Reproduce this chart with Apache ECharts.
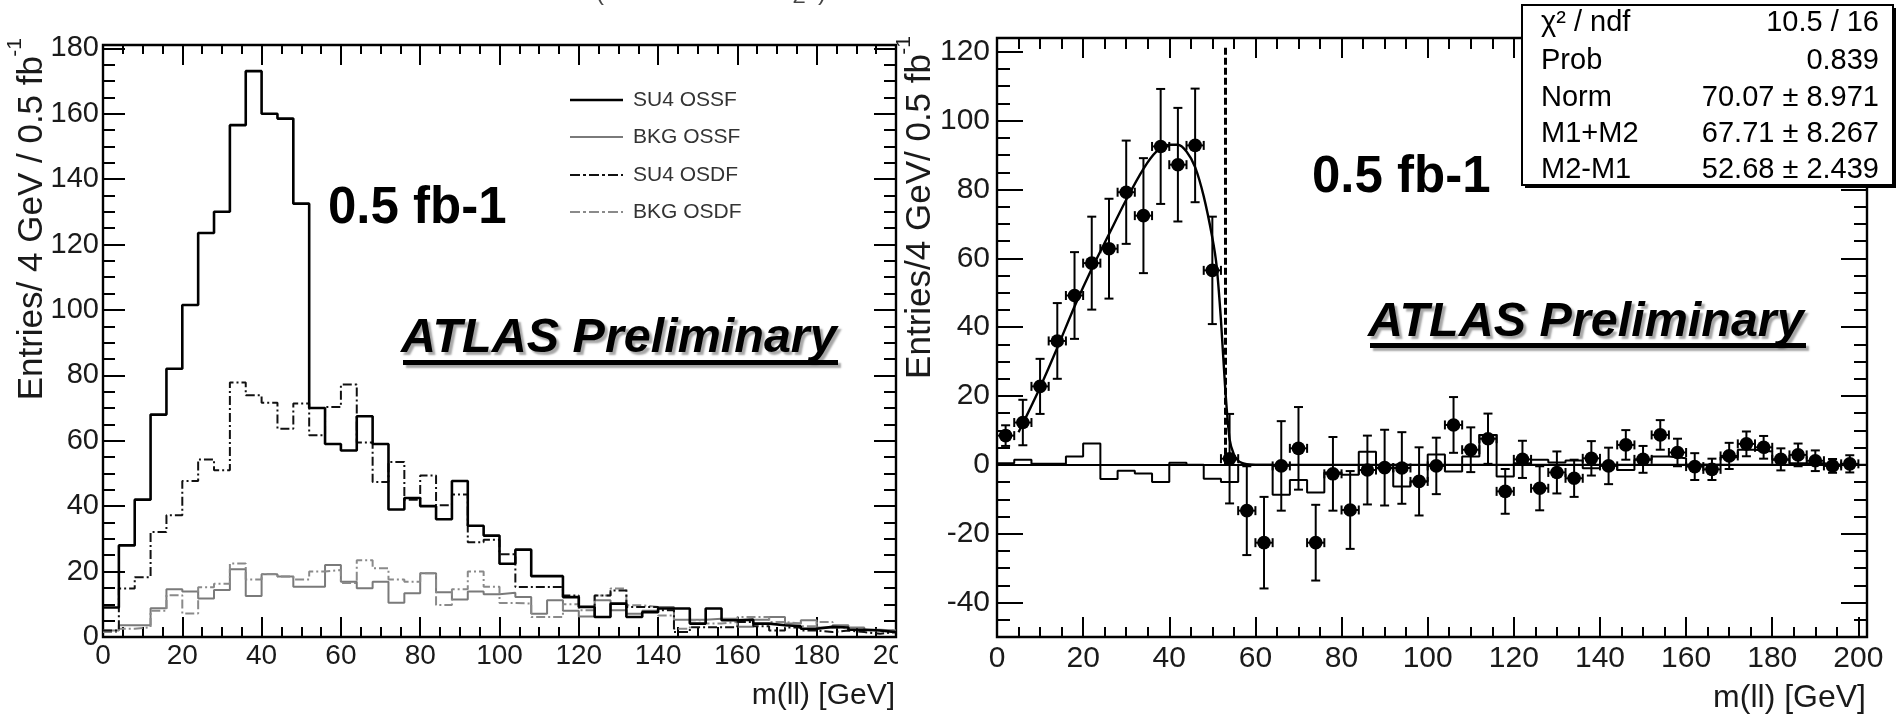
<!DOCTYPE html>
<html>
<head>
<meta charset="utf-8">
<script src="https://cdn.jsdelivr.net/npm/echarts@6/dist/echarts.min.js"></script>
<style>
html,body{margin:0;padding:0;background:#fff;}
#c{width:1899px;height:717px;}
</style>
</head>
<body>
<div id="c"></div>
<script>
// ---------------- DATA ----------------
const BIN_WIDTH = 4; // GeV per bin, 50 bins from 0 to 200

// Left panel: m(ll) distributions (entries / 4 GeV / 0.5 fb^-1)
const su4Ossf = [9, 28, 42, 68, 82, 101.5, 123.5, 130, 156.5, 173, 160, 158.5, 132.5, 70, 59, 57, 67.5, 59, 39, 42.5,
                 40, 36, 47.7, 34, 31, 22.4, 26.7, 18.6, 18.6, 12.2, 9.2, 6.1, 10.2, 6.1, 7.6, 8.7, 8.7, 4.1, 8.7, 5.1,
                 5.3, 4.1, 3.6, 3.3, 2.5, 3.1, 2.9, 2.2, 2, 1.5];
const bkgOssf = [2, 3.6, 3.6, 8.8, 14.6, 13.9, 11.8, 14.4, 20.7, 12.5, 19.2, 18.5, 15.4, 15.4, 22, 16.9, 14.9, 16.9, 10.5, 13.4,
                 19.5, 13.7, 11.5, 13.9, 13.1, 13.5, 12.2, 7.1, 11.2, 8, 6.3, 11.2, 8.2, 7.1, 8, 9.2, 5.3, 5.3, 5.6, 5.6,
                 3.1, 5.3, 6.1, 4.1, 5.1, 2.9, 3.6, 2.9, 2.2, 2];
const su4Osdf = [2, 14.8, 18.3, 32.1, 37.2, 47.7, 54.3, 51, 77.8, 73.9, 71.6, 63.7, 71.4, 61.7, 70.3, 77.2, 59.5, 47.4, 53.5, 42,
                 49.4, 40.3, 43.6, 29, 29.7, 25.3, 15.3, 15.3, 15.3, 12.7, 9.2, 12.7, 14.2, 9.2, 9.2, 8.2, 1.5, 3, 3, 3,
                 4.6, 3.3, 2, 2.9, 2, 1.5, 2, 1.5, 1, 1.5];
const bkgOsdf = [1.5, 2.5, 3, 8, 12.8, 7.2, 15.2, 16.3, 22.5, 17.6, 19.3, 18.5, 17.6, 20, 20.5, 16.5, 23.5, 21, 17.6, 16.9,
                 19.5, 9.8, 14.6, 20, 15.4, 10.4, 10.2, 6.1, 6.1, 10, 8.2, 12.7, 14.8, 9.7, 9.2, 6.6, 2.5, 5.1, 4.1, 4.6,
                 6.1, 6.1, 4.6, 4.1, 3.3, 4.6, 2.9, 2.2, 1.8, 2.2];

// Right panel: flavour-subtracted excess (points with errors), residual histogram, fit curve
const excess = [8.5, 12.3, 22.8, 36, 49.2, 58.6, 62.8, 79.2, 72.4, 92.5, 87.2, 92.8, 56.5, 1.8, -13.3, -22.6, -0.3, 4.8, -22.6, -2.6,
                -13.1, -1.5, -0.8, -0.9, -4.8, -0.3, 11.6, 4.4, 7.6, -7.7, 1.6, -6.8, -2.2, -3.9, 1.9, -0.3, 5.8, 1.6, 8.7, 3.6,
                -0.5, -1.3, 2.6, 6.1, 5.1, 1.6, 2.9, 1.2, -0.3, 0.3];
const excessErr = [3, 6.6, 8, 11, 12.6, 13.5, 14.5, 15, 16.7, 16.7, 16.5, 16.5, 15.6, 13, 12.9, 13.3, 13, 12, 11, 10.7,
                   11.3, 10, 11, 10.4, 9.9, 8.2, 8.1, 6.5, 7.3, 6.5, 5.4, 6.4, 6.1, 5.4, 5, 5.3, 4.3, 3.9, 4.3, 4,
                   3.9, 3.1, 3.8, 3.6, 3.3, 3.2, 3.3, 3, 2, 2.5];
const residual = [0.5, 1.5, 0.3, 0.3, 2.4, 6.2, -4.1, -1.7, -2.5, -5, 0.6, 0, -4, -5, 0, 0, -8.7, -4.4, -8, -2.2,
                  -2.9, 3.8, -1, -6.3, -4.8, 3, -1.9, 2.4, 8.7, -3.4, 0.5, 1.5, 0.7, 1.3, -1, 0, -1.5, 1.5, 2.4, 1.9,
                  0, 0, 2.2, 4.4, 3.9, 1.5, 0.5, 0.5, 0, 0];
const fitX = [5, 6, 8, 10, 14, 18, 22, 26, 30, 34, 37, 40, 42, 44, 46, 48, 50, 51, 52, 53, 54, 55, 56, 57, 58, 60, 202];
const fitY = [9.5, 12, 17.2, 22.5, 34, 46, 57, 67, 77, 86, 91, 93, 93, 91, 86.5, 78, 66, 57.7, 42, 22, 7.5, 3, 1.2, 0.5, 0.2, 0, 0];
const endpointX = 52.9;   // dashed line position
const endpointTop = 122;

// axis tick labels
const leftXTicks = [0, 20, 40, 60, 80, 100, 120, 140, 160, 180, 200];
const leftYTicks = [0, 20, 40, 60, 80, 100, 120, 140, 160, 180];
const rightXTicks = [0, 20, 40, 60, 80, 100, 120, 140, 160, 180, 200];
const rightYTicks = [-40, -20, 0, 20, 40, 60, 80, 100, 120];

const legendNames = ['SU4 OSSF', 'BKG OSSF', 'SU4 OSDF', 'BKG OSDF'];
const statsRows = [['χ² / ndf', '10.5 / 16'], ['Prob', '0.839'], ['Norm', '70.07 ± 8.971'],
                   ['M1+M2', '67.71 ± 8.267'], ['M2-M1', '52.68 ± 2.439']];

// ---------------- HELPERS ----------------
const FONT = 'Liberation Sans';
function histData(arr) {
  const d = arr.map((v, i) => [i * BIN_WIDTH, v]);
  d.push([arr.length * BIN_WIDTH, arr[arr.length - 1]]);
  return d;
}
function axesFor(gi, xr, yr, xMaj, yMaj, o) {
  const base = {type: 'value', gridIndex: gi, splitLine: {show: false}, silent: true,
                axisLine: {show: false, onZero: false}};
  const tick = (len, custom) => Object.assign({show: true, inside: true, length: len,
                lineStyle: {color: '#000', width: 2}}, custom ? {customValues: custom} : {});
  const lab = (custom, size, margin) => ({show: true, customValues: custom, fontSize: size, fontFamily: FONT,
                color: '#1a1a1a', margin: margin});
  const xs = [
    Object.assign({}, base, {position: 'bottom', min: xr[0], max: xr[1], axisTick: tick(o.xMajB, xMaj), axisLabel: lab(xMaj, o.fsX, o.xMargin)}),
    Object.assign({}, base, {position: 'bottom', min: xr[0], max: xr[1], interval: 5, axisTick: tick(o.xMinB), axisLabel: {show: false}}),
    Object.assign({}, base, {position: 'top', min: xr[0], max: xr[1], axisTick: tick(o.xMajT, xMaj), axisLabel: {show: false}}),
    Object.assign({}, base, {position: 'top', min: xr[0], max: xr[1], interval: 5, axisTick: tick(o.xMinT), axisLabel: {show: false}})
  ];
  const ys = [
    Object.assign({}, base, {position: 'left', min: yr[0], max: yr[1], axisTick: tick(o.yMajL, yMaj), axisLabel: lab(yMaj, o.fsY, o.yMargin)}),
    Object.assign({}, base, {position: 'left', min: yr[0], max: yr[1], interval: 5, axisTick: tick(o.yMinL), axisLabel: {show: false}}),
    Object.assign({}, base, {position: 'right', min: yr[0], max: yr[1], axisTick: tick(o.yMajR, yMaj), axisLabel: {show: false}}),
    Object.assign({}, base, {position: 'right', min: yr[0], max: yr[1], interval: 5, axisTick: tick(o.yMinR), axisLabel: {show: false}})
  ];
  return {xs, ys};
}
function txt(text, x, y, style, extra) {
  return Object.assign({type: 'text', x: x, y: y, z: 100, silent: true,
    style: Object.assign({text: text, fill: '#000', fontFamily: FONT, fontSize: 28,
      align: 'left', verticalAlign: 'middle', textAlign: 'left', textVerticalAlign: 'middle'}, style)}, extra || {});
}
function hline(x1, x2, y, stroke, width, dash) {
  return {type: 'line', z: 100, silent: true, shape: {x1: x1, y1: y, x2: x2, y2: y},
          style: {stroke: stroke, lineWidth: width, lineDash: dash || null}};
}

// ---------------- AXES ----------------
const L = axesFor(0, [0, 200], [0, 181], leftXTicks, leftYTicks,
  {xMajB: 20, xMinB: 10, xMajT: 20, xMinT: 9, yMajL: 22, yMinL: 12, yMajR: 22, yMinR: 12, fsX: 28, fsY: 29, xMargin: 5, yMargin: 4});
const R = axesFor(1, [0, 202], [-50, 124], rightXTicks, rightYTicks,
  {xMajB: 20, xMinB: 10, xMajT: 20, xMinT: 11, yMajL: 26, yMinL: 13, yMajR: 26, yMinR: 13, fsX: 30, fsY: 30, xMargin: 7, yMargin: 7});

const DASHDOT = [9, 3, 2, 3];

const series = [
  {name: 'BKG OSSF', type: 'line', step: 'end', xAxisIndex: 0, yAxisIndex: 0, symbol: 'none', data: histData(bkgOssf),
   lineStyle: {color: '#7a7a7a', width: 2}, z: 2},
  {name: 'BKG OSDF', type: 'line', step: 'end', xAxisIndex: 0, yAxisIndex: 0, symbol: 'none', data: histData(bkgOsdf),
   lineStyle: {color: '#8a8a8a', width: 2, type: DASHDOT}, z: 2},
  {name: 'SU4 OSDF', type: 'line', step: 'end', xAxisIndex: 0, yAxisIndex: 0, symbol: 'none', data: histData(su4Osdf),
   lineStyle: {color: '#111', width: 2, type: DASHDOT}, z: 3},
  {name: 'SU4 OSSF', type: 'line', step: 'end', xAxisIndex: 0, yAxisIndex: 0, symbol: 'none', data: histData(su4Ossf),
   lineStyle: {color: '#000', width: 2.6}, z: 4},
  // right panel
  {name: 'residual', type: 'line', step: 'end', xAxisIndex: 4, yAxisIndex: 4, symbol: 'none', data: histData(residual),
   lineStyle: {color: '#000', width: 2}, z: 2,
   markLine: {silent: true, symbol: 'none', label: {show: false},
     data: [
       {yAxis: 0, lineStyle: {color: '#000', width: 2.2, type: 'solid'}},
       [{coord: [endpointX, 0], lineStyle: {color: '#000', width: 3, type: [7, 3]}}, {coord: [endpointX, endpointTop]}]
     ]}},
  {name: 'fit', type: 'line', xAxisIndex: 4, yAxisIndex: 4, symbol: 'none', smooth: 0.25,
   data: fitX.map((x, i) => [x, fitY[i]]), lineStyle: {color: '#000', width: 2.4}, z: 3},
  {name: 'excess', type: 'custom', xAxisIndex: 4, yAxisIndex: 4, z: 5, clip: true,
   data: excess.map((v, i) => [i * BIN_WIDTH + BIN_WIDTH / 2, v, excessErr[i]]),
   renderItem: function (params, api) {
     const x = api.value(0), y = api.value(1), e = api.value(2);
     const c = api.coord([x, y]);
     const t = api.coord([x, y + e]);
     const b = api.coord([x, y - e]);
     const l = api.coord([x - BIN_WIDTH / 2, y]);
     const r = api.coord([x + BIN_WIDTH / 2, y]);
     const cap = 4.5;
     const st = {stroke: '#000', lineWidth: 2, fill: null};
     return {type: 'group', children: [
       {type: 'line', shape: {x1: c[0], y1: t[1], x2: c[0], y2: b[1]}, style: st},
       {type: 'line', shape: {x1: c[0] - cap, y1: t[1], x2: c[0] + cap, y2: t[1]}, style: st},
       {type: 'line', shape: {x1: c[0] - cap, y1: b[1], x2: c[0] + cap, y2: b[1]}, style: st},
       {type: 'line', shape: {x1: l[0], y1: c[1], x2: r[0], y2: c[1]}, style: st},
       {type: 'line', shape: {x1: l[0], y1: c[1] - cap, x2: l[0], y2: c[1] + cap}, style: st},
       {type: 'line', shape: {x1: r[0], y1: c[1] - cap, x2: r[0], y2: c[1] + cap}, style: st},
       {type: 'circle', shape: {cx: c[0], cy: c[1], r: 6.8}, style: {fill: '#000'}}
     ]};
   }}
];

// ---------------- GRAPHIC (titles, labels, legend, stats box) ----------------
const legendStyles = [
  {stroke: '#000', width: 2.6, dash: null},
  {stroke: '#7a7a7a', width: 2, dash: null},
  {stroke: '#111', width: 2, dash: [10, 3, 3, 3]},
  {stroke: '#8a8a8a', width: 2, dash: [10, 3, 3, 3]}
];
const legendY = [100, 137, 175, 212];
const graphics = [];
legendNames.forEach((n, i) => {
  graphics.push(hline(570, 623, legendY[i], legendStyles[i].stroke, legendStyles[i].width, legendStyles[i].dash));
  graphics.push(txt(n, 633, legendY[i], {fontSize: 21, fill: '#333'}));
});
// axis titles
graphics.push(txt('Entries/ 4 GeV / 0.5 fb', 32, 56, {fontSize: 35, fill: '#1a1a1a', align: 'right', textAlign: 'right'}, {rotation: Math.PI / 2}));
graphics.push(txt('-1', 15, 38, {fontSize: 21, fill: '#1a1a1a', align: 'right', textAlign: 'right'}, {rotation: Math.PI / 2}));
graphics.push(txt('Entries/4 GeV/ 0.5 fb', 920, 54, {fontSize: 35, fill: '#1a1a1a', align: 'right', textAlign: 'right'}, {rotation: Math.PI / 2}));
graphics.push(txt('-1', 904, 36, {fontSize: 21, fill: '#1a1a1a', align: 'right', textAlign: 'right'}, {rotation: Math.PI / 2}));
graphics.push(txt('m(ll) [GeV]', 895, 696, {fontSize: 30, fill: '#1a1a1a', align: 'right', textAlign: 'right'}));
graphics.push(txt('m(ll) [GeV]', 1866, 698, {fontSize: 32, fill: '#1a1a1a', align: 'right', textAlign: 'right'}));
// cover the clipped "200" label of left panel (image crop edge)
graphics.push({type: 'rect', z: 99, silent: true, shape: {x: 898, y: 640, width: 36, height: 34}, style: {fill: '#fff'}});
// luminosity labels
graphics.push(txt('0.5 fb-1', 328, 209, {fontSize: 51, fontWeight: 'bold'}));
graphics.push(txt('0.5 fb-1', 1312, 178, {fontSize: 51, fontWeight: 'bold'}));
// ATLAS Preliminary
const atlasStyle = {fontSize: 48.5, fontWeight: 'bold', fontStyle: 'italic', textShadowColor: 'rgba(0,0,0,0.35)',
                    textShadowOffsetX: 3, textShadowOffsetY: 3, textShadowBlur: 2};
graphics.push(txt('ATLAS Preliminary', 401, 339, atlasStyle));
graphics.push({type: 'rect', z: 100, silent: true, shape: {x: 403, y: 360, width: 435, height: 5},
               style: {fill: '#000', shadowColor: 'rgba(0,0,0,0.35)', shadowOffsetX: 3, shadowOffsetY: 3, shadowBlur: 2}});
graphics.push(txt('ATLAS Preliminary', 1368, 323, atlasStyle));
graphics.push({type: 'rect', z: 100, silent: true, shape: {x: 1370, y: 343, width: 436, height: 5},
               style: {fill: '#000', shadowColor: 'rgba(0,0,0,0.35)', shadowOffsetX: 3, shadowOffsetY: 3, shadowBlur: 2}});
// stats box
graphics.push({type: 'rect', z: 101, silent: true, shape: {x: 1525, y: 8, width: 371, height: 180}, style: {fill: '#000'}});
graphics.push({type: 'rect', z: 102, silent: true, shape: {x: 1522, y: 5, width: 371, height: 180},
               style: {fill: '#fff', stroke: '#000', lineWidth: 2}});
const statY = [23, 61, 98, 134, 170];
statsRows.forEach((r, i) => {
  graphics.push(txt(r[0], 1541, statY[i], {fontSize: 29, fill: '#000'}, {z: 103}));
  graphics.push(txt(r[1], 1879, statY[i], {fontSize: 29, fill: '#000', align: 'right', textAlign: 'right'}, {z: 103}));
});
// clipped fragments of slide text above the plots
graphics.push(txt('inv', 127, 3, {fontSize: 20, fill: '#444', verticalAlign: 'bottom', textVerticalAlign: 'bottom'}));
graphics.push(txt('(', 596, 5, {fontSize: 24, fill: '#444', verticalAlign: 'bottom', textVerticalAlign: 'bottom'}));
graphics.push(txt('inv', 650, 3, {fontSize: 20, fill: '#444', verticalAlign: 'bottom', textVerticalAlign: 'bottom'}));
graphics.push(txt('Z', 793, 7, {fontSize: 20, fill: '#444', verticalAlign: 'bottom', textVerticalAlign: 'bottom'}));
graphics.push(txt(')', 818, 5, {fontSize: 24, fill: '#444', verticalAlign: 'bottom', textVerticalAlign: 'bottom'}));

// ---------------- CHART ----------------
const chart = echarts.init(document.getElementById('c'), null, {renderer: 'canvas', width: 1899, height: 717});
chart.setOption({
  animation: false,
  backgroundColor: '#fff',
  grid: [
    {left: 103, top: 45, width: 793, height: 592, show: true, borderColor: '#000', borderWidth: 2.4, backgroundColor: 'transparent'},
    {left: 997, top: 38, width: 870, height: 599, show: true, borderColor: '#000', borderWidth: 2.4, backgroundColor: 'transparent'}
  ],
  xAxis: L.xs.concat(R.xs),
  yAxis: L.ys.concat(R.ys),
  series: series,
  graphic: {elements: graphics}
});
</script>
</body>
</html>
